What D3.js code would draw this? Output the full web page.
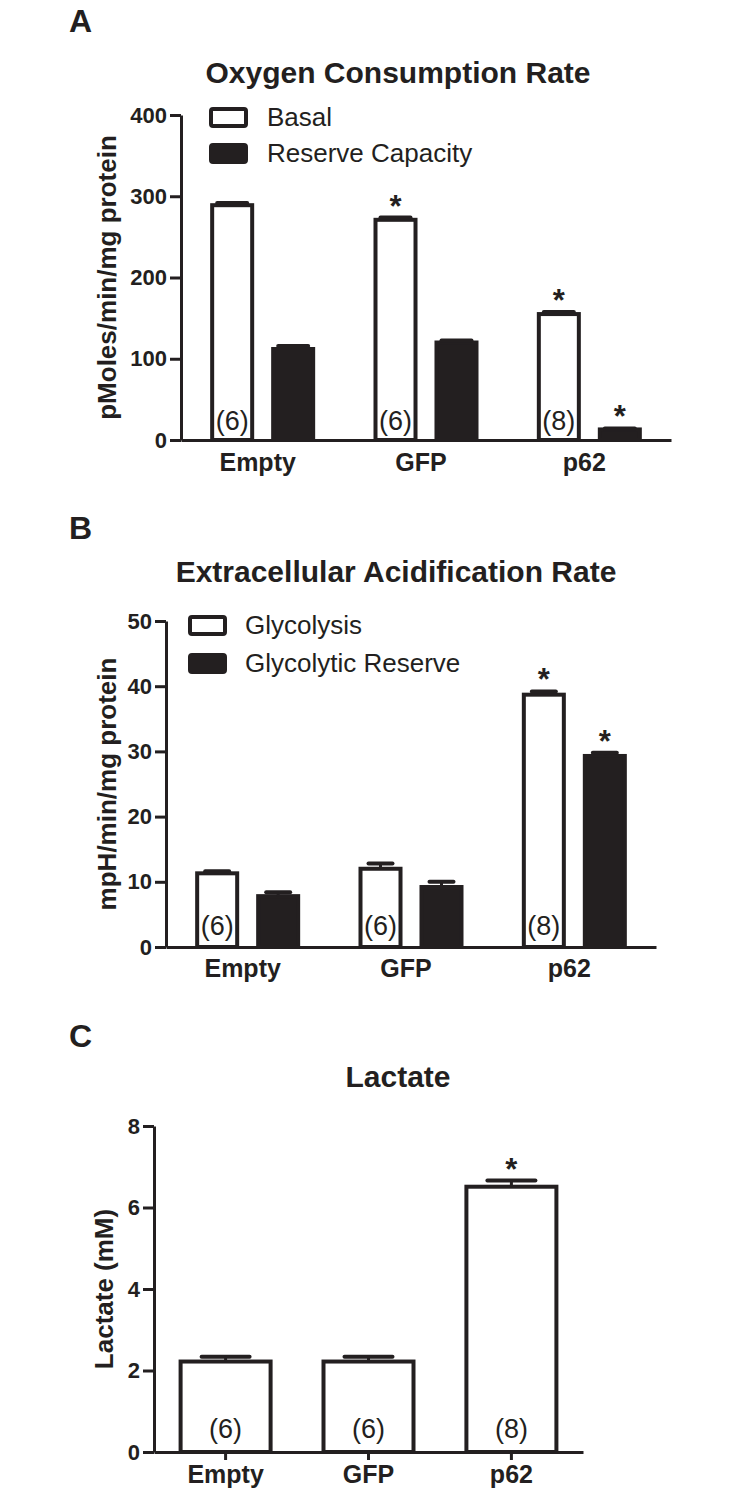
<!DOCTYPE html>
<html>
<head>
<meta charset="utf-8">
<script src="https://cdn.jsdelivr.net/npm/d3@7"></script>
<style>
  html, body { margin: 0; padding: 0; background: #fff; }
  text { font-family: "Liberation Sans", Arial, sans-serif; fill: #231f20; }
</style>
</head>
<body>
<script>
var categories = ['Empty', 'GFP', 'p62'];
var sampleSizes = ['(6)', '(6)', '(8)'];

// A: oxygen consumption rate
var ocrSeries = ['Basal', 'Reserve Capacity'];
var ocrBasal = [289, 271, 155];
var ocrBasalErr = [2.8, 2.8, 2.5];
var ocrBasalStar = [false, true, true];
var ocrReserve = [112, 120, 13];
var ocrReserveErr = [3.7, 2.5, 1.2];
var ocrReserveStar = [false, false, true];
var ocrTicks = [0, 100, 200, 300, 400];

// B: extracellular acidification rate
var ecarSeries = ['Glycolysis', 'Glycolytic Reserve'];
var ecarGlyc = [11.3, 12.0, 38.7];
var ecarGlycErr = [0.3, 0.8, 0.5];
var ecarGlycStar = [false, false, true];
var ecarReserve = [7.8, 9.2, 29.3];
var ecarReserveErr = [0.6, 0.8, 0.5];
var ecarReserveStar = [false, false, true];
var ecarTicks = [0, 10, 20, 30, 40, 50];

// C: lactate
var lactate = [2.22, 2.22, 6.51];
var lactateErr = [0.12, 0.12, 0.15];
var lactateStar = [false, false, true];
var lactateTicks = [0, 2, 4, 6, 8];

var W = 742, H = 1491;
var INK = '#231f20';
var FONT = '"Liberation Sans", Arial, sans-serif';

var svg = d3.select('body').append('svg')
  .attr('width', W)
  .attr('height', H);

svg.append('rect').attr('width', W).attr('height', H).attr('fill', '#fff');

function drawPanel(o) {
  var g = svg.append('g');

  var y = d3.scaleLinear().domain([0, d3.max(o.ticks)]).range([o.y0, o.y1]);
  var x = d3.scaleBand().domain(categories).range([o.x0, o.x1])
    .paddingInner(o.padInner).paddingOuter(o.padOuter);
  var sub = d3.scaleBand().domain(o.series.map(function(s) { return s.name; }))
    .range([-o.groupHalf, o.groupHalf]).paddingInner(o.subPad);

  var bars = [];
  categories.forEach(function(c, i) {
    o.series.forEach(function(s, j) {
      bars.push({ c: c, i: i, j: j, s: s, v: s.values[i], e: s.errors[i], star: s.stars[i] });
    });
  });

  function cx(d) { return x(d.c) + x.bandwidth() / 2 + sub(d.s.name) + sub.bandwidth() / 2; }

  g.append('g').selectAll('rect')
      .data(bars)
    .enter().append('rect')
      .attr('x', function(d) { return cx(d) - sub.bandwidth() / 2; })
      .attr('y', function(d) { return y(d.v); })
      .attr('width', sub.bandwidth())
      .attr('height', function(d) { return y(0) - y(d.v); })
      .attr('fill', function(d) { return d.s.fill; })
      .attr('stroke', INK)
      .attr('stroke-width', 4);

  // error bars (upper only)
  var err = g.append('g').selectAll('g').data(bars).enter().append('g');
  err.append('line')
    .attr('x1', cx).attr('x2', cx)
    .attr('y1', function(d) { return y(d.v); })
    .attr('y2', function(d) { return y(d.v + d.e); })
    .attr('stroke', INK).attr('stroke-width', 3);
  err.append('line')
    .attr('x1', function(d) { return cx(d) - o.capHalf; })
    .attr('x2', function(d) { return cx(d) + o.capHalf; })
    .attr('y1', function(d) { return y(d.v + d.e); })
    .attr('y2', function(d) { return y(d.v + d.e); })
    .attr('stroke', INK).attr('stroke-width', 4).attr('stroke-linecap', 'round');

  g.append('g').selectAll('text')
      .data(bars.filter(function(d) { return d.star; }))
    .enter().append('text')
      .attr('x', cx)
      .attr('y', function(d) { return y(d.v + d.e) + o.starDy; })
      .attr('text-anchor', 'middle')
      .style('font-size', '31px')
      .style('font-weight', 'bold')
      .text('*');

  // sample sizes inside the first series bar
  g.append('g').selectAll('text')
      .data(bars.filter(function(d) { return d.j === 0; }))
    .enter().append('text')
      .attr('x', cx)
      .attr('y', y(0) - o.nDy)
      .attr('text-anchor', 'middle')
      .style('font-size', '27px')
      .text(function(d) { return sampleSizes[d.i]; });

  // y axis
  var ya = g.append('g')
    .attr('transform', 'translate(' + o.x0 + ',0)')
    .call(d3.axisLeft(y).tickValues(o.ticks).tickSize(11).tickSizeOuter(0).tickPadding(3));
  ya.selectAll('path, line').attr('stroke', INK).attr('stroke-width', 3);
  ya.selectAll('text')
    .attr('fill', INK)
    .style('font-family', FONT)
    .style('font-size', '22px')
    .style('font-weight', 'bold');

  // x axis
  var xa = g.append('g')
    .attr('transform', 'translate(0,' + o.y0 + ')')
    .call(d3.axisBottom(x).tickSize(o.xTick).tickSizeOuter(0).tickPadding(o.xPad));
  xa.select('.domain').attr('stroke', INK).attr('stroke-width', 3);
  xa.selectAll('line').attr('stroke', INK).attr('stroke-width', 3);
  xa.selectAll('text')
    .attr('fill', INK)
    .attr('dx', o.xLabelDx)
    .attr('dy', '0.71em')
    .style('font-family', FONT)
    .style('font-size', '25px')
    .style('font-weight', 'bold');

  // y label
  g.append('text')
    .attr('transform', 'translate(' + o.yLabelX + ',' + (o.y0 + o.y1) / 2 + ') rotate(-90)')
    .attr('text-anchor', 'middle')
    .attr('dy', '0.35em')
    .style('font-size', '26px')
    .style('font-weight', 'bold')
    .text(o.yLabel);

  // title
  g.append('text')
    .attr('x', o.titleX).attr('y', o.titleY)
    .attr('text-anchor', 'middle')
    .style('font-size', '30px')
    .style('font-weight', 'bold')
    .text(o.title);

  // panel letter
  g.append('text')
    .attr('x', 69).attr('y', o.letterY)
    .style('font-size', '32px')
    .style('font-weight', 'bold')
    .text(o.letter);

  // legend
  if (o.legend) {
    var lg = g.append('g').selectAll('g')
        .data(o.series)
      .enter().append('g')
        .attr('transform', function(d, i) { return 'translate(' + o.legend.x + ',' + (o.legend.y + i * o.legend.step) + ')'; });
    lg.append('rect')
      .attr('width', 35).attr('height', 17).attr('rx', 2)
      .attr('fill', function(d) { return d.fill; })
      .attr('stroke', INK).attr('stroke-width', 4);
    lg.append('text')
      .attr('x', o.legend.textDx).attr('y', 17)
      .style('font-size', '26px')
      .text(function(d) { return d.name; });
  }
}

drawPanel({
  letter: 'A', letterY: 32,
  title: 'Oxygen Consumption Rate', titleX: 398, titleY: 83,
  yLabel: 'pMoles/min/mg protein', yLabelX: 107,
  ticks: ocrTicks,
  series: [
    { name: ocrSeries[0], values: ocrBasal, errors: ocrBasalErr, stars: ocrBasalStar, fill: '#fff' },
    { name: ocrSeries[1], values: ocrReserve, errors: ocrReserveErr, stars: ocrReserveStar, fill: INK }
  ],
  x0: 181, x1: 671, y0: 440, y1: 115,
  padInner: 0, padOuter: 0, groupHalf: 50.5, subPad: 0.344,
  capHalf: 15, starDy: -1, nDy: 10,
  xTick: 0, xPad: 13, xLabelDx: -5,
  legend: { x: 211, y: 109, step: 36, textDx: 56 }
});

drawPanel({
  letter: 'B', letterY: 539,
  title: 'Extracellular Acidification Rate', titleX: 396, titleY: 582,
  yLabel: 'mpH/min/mg protein', yLabelX: 107,
  ticks: ecarTicks,
  series: [
    { name: ecarSeries[0], values: ecarGlyc, errors: ecarGlycErr, stars: ecarGlycStar, fill: '#fff' },
    { name: ecarSeries[1], values: ecarReserve, errors: ecarReserveErr, stars: ecarReserveStar, fill: INK }
  ],
  x0: 166, x1: 656, y0: 947, y1: 621,
  padInner: 0, padOuter: 0, groupHalf: 50.5, subPad: 0.344,
  capHalf: 12, starDy: -1, nDy: 12,
  xTick: 0, xPad: 12, xLabelDx: -5,
  legend: { x: 190, y: 617, step: 38, textDx: 55 }
});

drawPanel({
  letter: 'C', letterY: 1047,
  title: 'Lactate', titleX: 398, titleY: 1087,
  yLabel: 'Lactate (mM)', yLabelX: 104,
  ticks: lactateTicks,
  series: [
    { name: 'Lactate', values: lactate, errors: lactateErr, stars: lactateStar, fill: '#fff' }
  ],
  x0: 154, x1: 583, y0: 1452, y1: 1126,
  padInner: 0.37, padOuter: 0.186, groupHalf: 45, subPad: 0,
  capHalf: 24, starDy: -1, nDy: 14,
  xTick: 8, xPad: 5, xLabelDx: 0,
  legend: null
});
</script>
</body>
</html>
